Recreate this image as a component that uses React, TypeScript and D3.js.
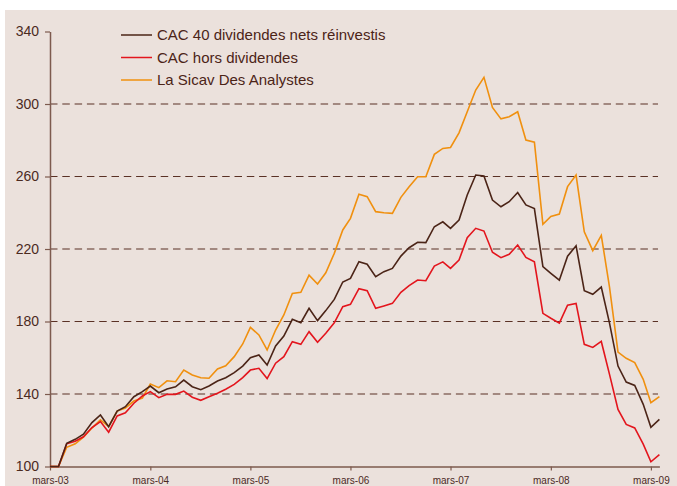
import React, { useEffect, useRef } from "react";
import * as d3 from "d3";

// monthly values, mars-03 .. avr-09 (base 100)
const cacNets = [
  100, 100, 112.8, 115, 117.8, 124.2, 128.4, 122, 130.6, 133, 138.5, 141.3,
  144.4, 140.7, 142.8, 144, 147.7, 144, 142.4, 144.4, 147.2, 149, 151.8, 155.4,
  160, 161.5, 156, 166.5, 172, 181.2, 179.3, 187.3, 180.5, 186, 192.2, 201.8,
  203.8, 213, 211.6, 204.7, 207.5, 209.3, 216.1, 220.7, 223.7, 223.5, 232.3, 235,
  231.4, 236, 249.8, 260.8, 260.3, 247, 243.3, 246.1, 251.2, 244.3, 242.3, 210.3,
  206.6, 202.8, 216, 221.8, 197, 195, 199, 179.1, 155.4, 146.6, 144.7, 134.3,
  121.6, 126,
];
const cacHors = [
  100, 100, 112.5, 113.9, 116.4, 121.5, 124.8, 118.9, 127.9, 129.6, 134.9, 138.9,
  141.3, 138, 139.8, 139.8, 141.6, 138.2, 136.5, 138.5, 140.4, 142.6, 145.3, 149,
  153.2, 154.2, 148.5, 157, 160.6, 168.9, 167.4, 174.4, 168.5, 173.5, 179.3, 188.2,
  189.5, 198.1, 197, 187.3, 188.6, 190, 196.1, 199.8, 202.9, 202.5, 210.6, 212.9,
  209.3, 213.9, 226.2, 231.4, 229.9, 218.2, 215.2, 217.1, 222.2, 215.4, 212.9, 184.5,
  181.8, 179.1, 189, 190, 167.4, 165.7, 169, 150.8, 131.5, 123.2, 121.3, 112.3,
  102.6, 106.5,
];
const sicav = [
  100, 100, 110.6, 112.5, 116.2, 121.2, 125.7, 122, 130.6, 132.3, 136.1, 137.8,
  145.5, 143.5, 147.3, 146.8, 153.2, 150.5, 149, 148.7, 153.8, 155.6, 160.6, 167.6,
  176.8, 172.6, 164.3, 175.3, 183.6, 195.5, 196.1, 205.6, 200.7, 206.9, 217.6, 230.5,
  236.9, 250.2, 248.9, 240.6, 240, 239.7, 248.5, 254.4, 259.9, 259.9, 272.2, 275.5,
  276, 284.1, 295.7, 307.7, 314.7, 298.1, 291.8, 293, 295.7, 280.1, 278.9, 233.6,
  238, 239.3, 254.4, 260.8, 229.5, 219.1, 227.5, 199, 163.1, 159.7, 157.3, 148.1,
  135.2, 138.5,
];
const seriesNames = [
  "CAC 40 dividendes nets réinvestis",
  "CAC hors dividendes",
  "La Sicav Des Analystes",
];
const seriesColors = ["#4b2417", "#e3151d", "#f0900f"];
const yTicks = [100, 140, 180, 220, 260, 300, 340];
const xTickLabels = ["mars-03", "mars-04", "mars-05", "mars-06", "mars-07", "mars-08", "mars-09"];

const W = 677;
const H = 486;

export default function App() {
  const ref = useRef<SVGSVGElement>(null);

  useEffect(() => {
    const svg = d3.select(ref.current);
    svg.selectAll("*").remove();

    const start = new Date(2003, 2, 1);
    const dates = cacNets.map((_, i) => d3.timeMonth.offset(start, i));
    const x = d3
      .scaleTime()
      .domain([start, d3.timeMonth.offset(start, 73)])
      .range([50, 659.4]);
    const y = d3.scaleLinear().domain([100, 340]).range([466.5, 31.5]);

    svg.append("rect").attr("x", 0).attr("y", 0).attr("width", W).attr("height", H).attr("fill", "#fff");
    svg.append("rect").attr("x", 5).attr("y", 10).attr("width", W - 5).attr("height", H - 10).attr("fill", "#ebe1dc");

    // grid
    svg
      .append("g")
      .selectAll("line")
      .data(yTicks.filter((t) => t > 100 && t < 340))
      .join("line")
      .attr("x1", 50)
      .attr("x2", 658)
      .attr("y1", (d) => y(d))
      .attr("y2", (d) => y(d))
      .attr("stroke", "#5a3125")
      .attr("stroke-width", 1.2)
      .attr("stroke-dasharray", "7.5,4.8");

    // y axis
    const yAxis = svg
      .append("g")
      .attr("transform", "translate(50,0)")
      .call(d3.axisLeft(y).tickValues(yTicks).tickSize(5).tickPadding(6).tickSizeOuter(0));
    yAxis.select(".domain").attr("stroke", "#7d5a4e").attr("stroke-width", 1.5);
    yAxis.selectAll(".tick line").attr("stroke", "#7d5a4e").attr("stroke-width", 1.2);
    yAxis
      .selectAll(".tick text")
      .attr("fill", "#4b2a1f")
      .style("font", "14px 'Liberation Sans', Arial, sans-serif");

    // x axis
    const xTickDates = xTickLabels.map((_, i) => d3.timeMonth.offset(start, i * 12));
    const xAxis = svg
      .append("g")
      .attr("transform", "translate(0,466.5)")
      .call(
        d3
          .axisBottom(x)
          .tickValues(xTickDates)
          .tickFormat((_, i) => xTickLabels[i])
          .tickSize(4)
          .tickPadding(6)
          .tickSizeOuter(0)
      );
    xAxis.select(".domain").attr("stroke", "#7d5a4e").attr("stroke-width", 1.5);
    xAxis.selectAll(".tick line").attr("stroke", "#7d5a4e").attr("stroke-width", 1.2);
    xAxis
      .selectAll(".tick text")
      .attr("fill", "#4b2a1f")
      .style("font", "10px 'Liberation Sans', Arial, sans-serif");

    // lines
    const line = d3
      .line<number>()
      .x((_, i) => x(dates[i]))
      .y((d) => y(d));
    const all = [cacNets, cacHors, sicav];
    [2, 1, 0].forEach((k) => {
      svg
        .append("path")
        .datum(all[k])
        .attr("d", line)
        .attr("fill", "none")
        .attr("stroke", seriesColors[k])
        .attr("stroke-width", 1.6)
        .attr("stroke-linejoin", "miter");
    });

    // legend
    const lg = svg
      .append("g")
      .selectAll("g")
      .data(seriesNames)
      .join("g")
      .attr("transform", (_, i) => `translate(121,${35 + i * 22.5})`);
    lg.append("line")
      .attr("x1", 0)
      .attr("x2", 31)
      .attr("stroke", (_, i) => seriesColors[i])
      .attr("stroke-width", 1.5);
    lg.append("text")
      .attr("x", 36)
      .attr("y", 5)
      .attr("fill", "#4b2417")
      .style("font", "15px 'Liberation Sans', Arial, sans-serif")
      .text((d) => d);
  }, []);

  return (
    <svg
      ref={ref}
      width={W}
      height={H}
      style={{ position: "absolute", left: 0, top: 0, display: "block" }}
    />
  );
}
